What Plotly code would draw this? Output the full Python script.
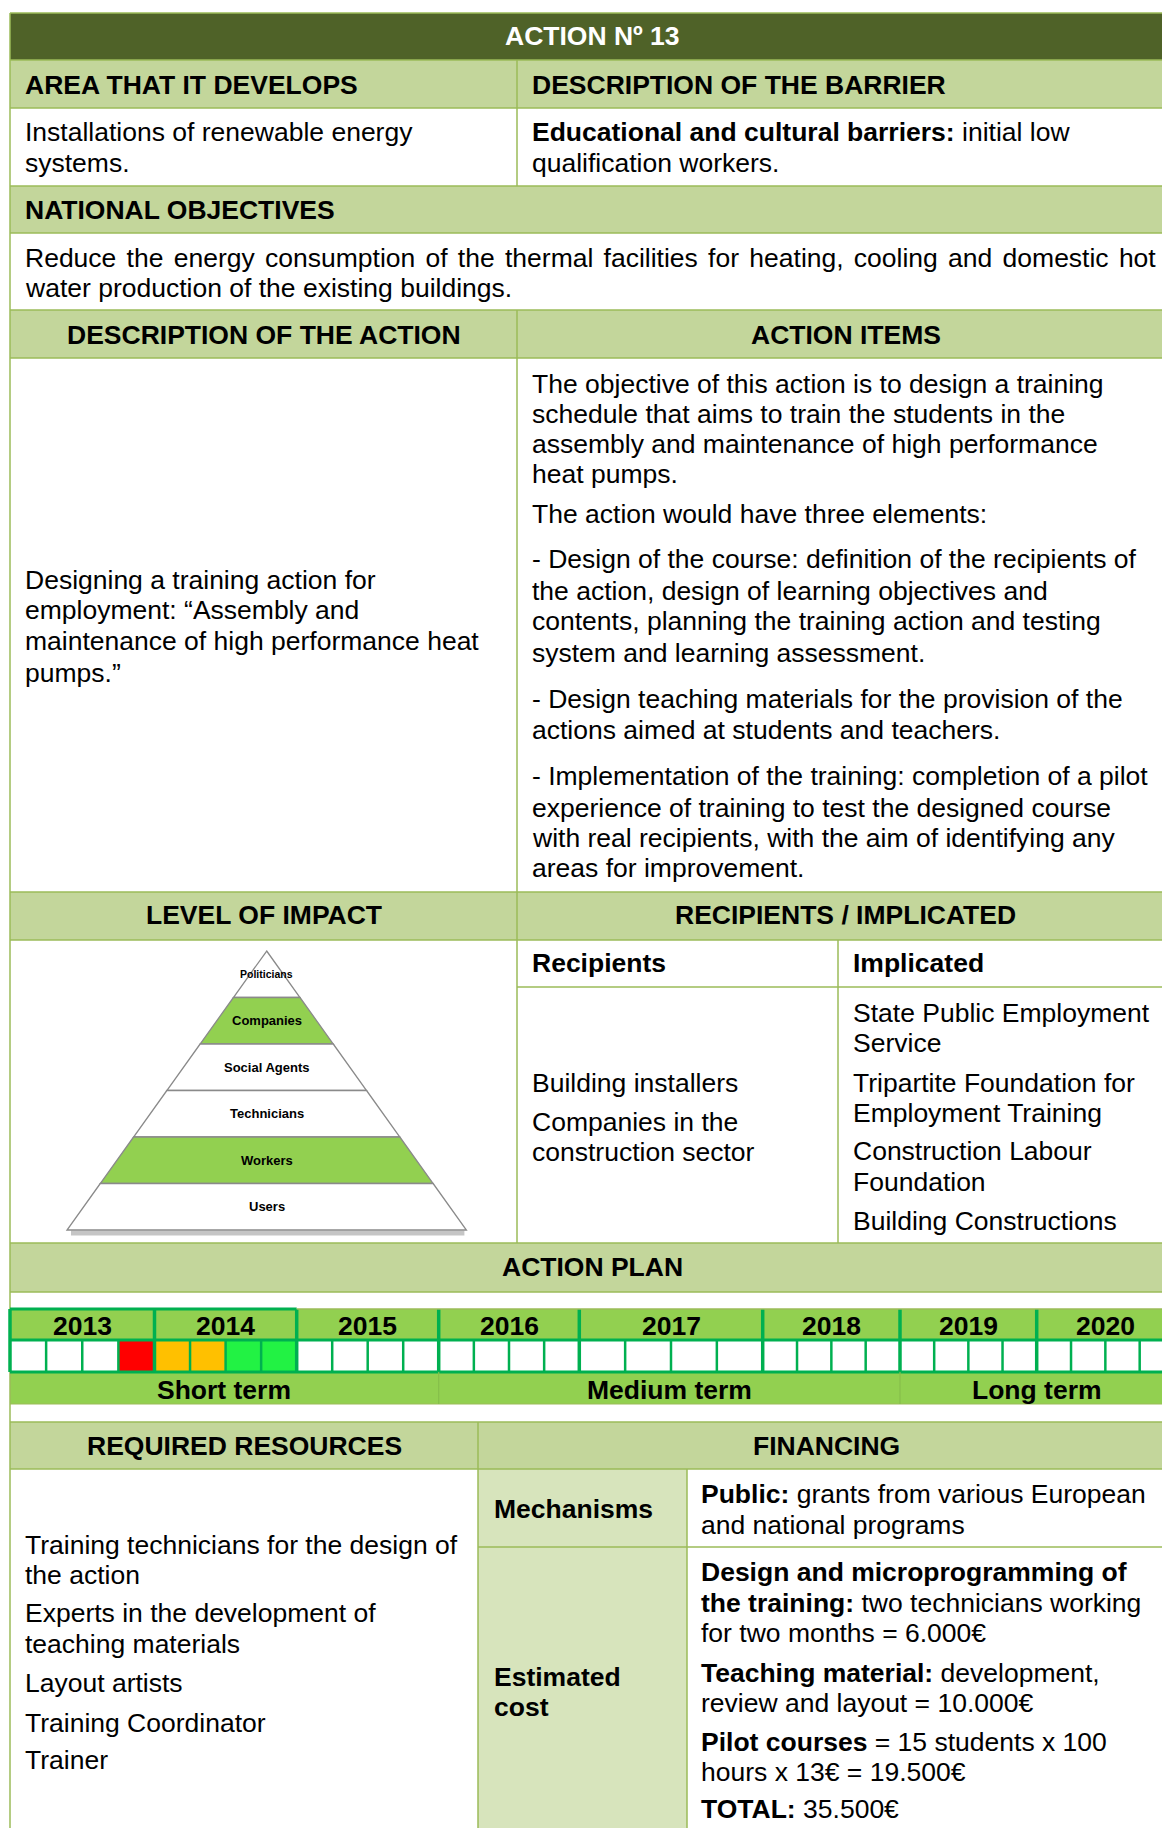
import plotly.graph_objects as go

# ======================= DATA =======================
TITLE = "ACTION Nº 13"
AREA_HEADER = "AREA THAT IT DEVELOPS"
BARRIER_HEADER = "DESCRIPTION OF THE BARRIER"
AREA_LINES = ["Installations of renewable energy", "systems."]
BARRIER_LINES = ["<b>Educational and cultural barriers:</b> initial low",
                 "qualification workers."]
OBJECTIVES_HEADER = "NATIONAL OBJECTIVES"
OBJECTIVE_LINES = ["Reduce the energy consumption of the thermal facilities for heating, cooling and domestic hot",
                   "water production of the existing buildings."]
ACTION_DESC_HEADER = "DESCRIPTION OF THE ACTION"
ACTION_ITEMS_HEADER = "ACTION ITEMS"
ACTION_DESC_LINES = ["Designing a training action for",
                     "employment: \u201cAssembly and",
                     "maintenance of high performance heat",
                     "pumps.\u201d"]
ACTION_ITEM_LINES = ["The objective of this action is to design a training",
                     "schedule that aims to train the students in the",
                     "assembly and maintenance of high performance",
                     "heat pumps.",
                     "The action would have three elements:",
                     "- Design of the course: definition of the recipients of",
                     "the action, design of learning objectives and",
                     "contents, planning the training action and testing",
                     "system and learning assessment.",
                     "- Design teaching materials for the provision of the",
                     "actions aimed at students and teachers.",
                     "- Implementation of the training: completion of a pilot",
                     "experience of training to test the designed course",
                     "with real recipients, with the aim of identifying any",
                     "areas for improvement."]
IMPACT_HEADER = "LEVEL OF IMPACT"
RECIP_HEADER = "RECIPIENTS / IMPLICATED"
PYRAMID_LEVELS = ["Politicians", "Companies", "Social Agents", "Technicians", "Workers", "Users"]
PYRAMID_SELECTED = [False, True, False, False, True, False]
RECIPIENTS_TITLE = "Recipients"
IMPLICATED_TITLE = "Implicated"
RECIPIENT_LINES = ["Building installers", "Companies in the", "construction sector"]
IMPLICATED_LINES = ["State Public Employment", "Service", "Tripartite Foundation for",
                    "Employment Training", "Construction Labour", "Foundation",
                    "Building Constructions"]
PLAN_HEADER = "ACTION PLAN"
YEARS = ["2013", "2014", "2015", "2016", "2017", "2018", "2019", "2020"]
# status per quarter (year index, quarter index, status)
QUARTER_STATUS = [(0, 3, "red"), (1, 0, "orange"), (1, 1, "orange"), (1, 2, "green"), (1, 3, "green")]
TERMS = ["Short term", "Medium term", "Long term"]
TERM_YEAR_COUNT = [3, 3, 2]
RESOURCES_HEADER = "REQUIRED RESOURCES"
FINANCING_HEADER = "FINANCING"
RESOURCE_LINES = ["Training technicians for the design of", "the action",
                  "Experts in the development of", "teaching materials",
                  "Layout artists", "Training Coordinator", "Trainer"]
MECH_LABEL = "Mechanisms"
COST_LABEL = ["Estimated", "cost"]
MECH_LINES = ["<b>Public:</b> grants from various European", "and national programs"]
COST_LINES = ["<b>Design and microprogramming of</b>",
              "<b>the training:</b> two technicians working",
              "for two months = 6.000\u20ac",
              "<b>Teaching material:</b> development,",
              "review and layout = 10.000\u20ac",
              "<b>Pilot courses</b> = 15 students x 100",
              "hours x 13\u20ac = 19.500\u20ac",
              "<b>TOTAL:</b> 35.500\u20ac"]

# ======================= LAYOUT / STYLE =======================
W, H = 1162, 1828
FONT = "Liberation Sans, Arial, sans-serif"
FS = 26.5
DARK = "#4F6228"
LIGHT = "#C3D69B"
PALE = "#D7E4BC"
BORDER = "#9BBB59"
GANTT_FILL = "#92D050"
GANTT_LINE = "#00B050"
STATUS_COLORS = {"red": "#FF0000", "orange": "#FFC000", "green": "#22F244"}

L, R = 10, 1174
COL = 517
SUBCOL = 838
RCOL = 478
FCOL = 687
BOTTOM = 1840
YEAR_EDGES = [10, 154.5, 296.7, 438.7, 579.3, 762.7, 900, 1036.7, 1174]
GY0, GY1, GY2, GY3 = 1309, 1340, 1372, 1404
PAD = 12.5          # left text inset inside a cell
XL = L + PAD
XC = COL + PAD
XS = SUBCOL + PAD
XM = RCOL + PAD + 1
XF = FCOL + PAD - 1
JUSTIFY_SPACING = "2.9px"   # extra word spacing for the justified objectives line

shapes = []
annotations = []


def rect(x0, y0, x1, y1, fill, line=None, lw=0):
    shapes.append(dict(type="rect", xref="x", yref="y", x0=x0, y0=y0, x1=x1, y1=y1,
                       fillcolor=fill, line=dict(color=line or fill, width=lw), layer="below"))


def hline(y, x0, x1, color=BORDER, w=1.5):
    shapes.append(dict(type="line", xref="x", yref="y", x0=x0, x1=x1, y0=y, y1=y,
                       line=dict(color=color, width=w)))


def vline(x, y0, y1, color=BORDER, w=1.5):
    shapes.append(dict(type="line", xref="x", yref="y", x0=x, x1=x, y0=y0, y1=y1,
                       line=dict(color=color, width=w)))


def text(t, x, y, size=FS, bold=False, color="black", anchor="left"):
    annotations.append(dict(x=x, y=y, xref="x", yref="y", text=("<b>%s</b>" % t) if bold else t,
                            showarrow=False, xanchor=anchor, yanchor="middle",
                            font=dict(family=FONT, size=size, color=color)))


def lines(ls, x, ys, **kw):
    for t, y in zip(ls, ys):
        text(t, x, y, **kw)


# ---- backgrounds ----
rect(L, 13, R, 60, DARK)
for y0, y1 in [(60, 108), (186, 233), (310, 358), (892, 940), (1243, 1292), (1422, 1469)]:
    rect(L, y0, R, y1, LIGHT)
rect(RCOL, 1469, FCOL, BOTTOM, PALE)

# ---- table borders ----
for y in [13, 60, 108, 186, 233, 310, 358, 892, 940, 1243, 1292, 1422, 1469]:
    hline(y, L, R)
hline(987, COL, R)
hline(1547, RCOL, R)
vline(L, 13, BOTTOM)
vline(COL, 60, 186)
vline(COL, 310, 1243)
vline(SUBCOL, 940, 1243)
vline(RCOL, 1422, BOTTOM)
vline(FCOL, 1469, BOTTOM)

# ---- texts ----
text(TITLE, (L + R) / 2, 36, bold=True, color="white", anchor="center")
text(AREA_HEADER, XL, 85, bold=True)
text(BARRIER_HEADER, XC, 85, bold=True)
lines(AREA_LINES, XL, [132, 163])
lines(BARRIER_LINES, XC, [132, 163])
text(OBJECTIVES_HEADER, XL, 210, bold=True)
text('<span style="word-spacing:%s">%s</span>' % (JUSTIFY_SPACING, OBJECTIVE_LINES[0]), XL, 258)
text(OBJECTIVE_LINES[1], XL, 288)
text(ACTION_DESC_HEADER, (L + COL) / 2, 334.5, bold=True, anchor="center")
text(ACTION_ITEMS_HEADER, (COL + R) / 2, 334.5, bold=True, anchor="center")
lines(ACTION_DESC_LINES, XL, [579.5, 610, 641, 672.5])
lines(ACTION_ITEM_LINES, XC, [383.5, 413.8, 444, 474.4, 514, 559.4, 591, 621, 652.7,
                              699.3, 729.6, 776.2, 807.7, 838, 868.3])
text(IMPACT_HEADER, (L + COL) / 2, 915, bold=True, anchor="center")
text(RECIP_HEADER, (COL + R) / 2, 915, bold=True, anchor="center")
text(RECIPIENTS_TITLE, XC, 963, bold=True)
text(IMPLICATED_TITLE, XS, 963, bold=True)
lines(RECIPIENT_LINES, XC, [1083.3, 1121.7, 1151.7])
lines(IMPLICATED_LINES, XS, [1013.3, 1043.3, 1083.3, 1113.3, 1150.7, 1181.7, 1220.7])

# ---- pyramid ----
AX, AY, BY, HALF = 266.7, 951, 1230, 199.7
n = len(PYRAMID_LEVELS)
bh = (BY - AY) / n
shapes.append(dict(type="line", xref="x", yref="y", x0=AX - HALF + 4, x1=AX + HALF - 2, y0=BY + 3, y1=BY + 3,
                   line=dict(color="rgba(90,90,90,0.35)", width=5)))
for i, (lab, sel) in enumerate(zip(PYRAMID_LEVELS, PYRAMID_SELECTED)):
    y0 = AY + i * bh
    y1 = y0 + bh
    h0 = HALF * (y0 - AY) / (BY - AY)
    h1 = HALF * (y1 - AY) / (BY - AY)
    path = "M %f %f L %f %f L %f %f L %f %f Z" % (AX - h0, y0, AX + h0, y0, AX + h1, y1, AX - h1, y1)
    shapes.append(dict(type="path", xref="x", yref="y", path=path,
                       fillcolor=GANTT_FILL if sel else "white",
                       line=dict(color="#8A8A8A", width=1.3)))
    text(lab, AX, (y0 + y1) / 2, size=10.5 if i == 0 else 13, bold=True, anchor="center")

# ---- action plan ----
text(PLAN_HEADER, (L + R) / 2, 1267, bold=True, anchor="center")
rect(L, GY0, R, GY1, GANTT_FILL)
rect(L, GY2, R, GY3, GANTT_FILL)
status = {(yi, qi): s for yi, qi, s in QUARTER_STATUS}
for yi, yr in enumerate(YEARS):
    x0, x1 = YEAR_EDGES[yi], YEAR_EDGES[yi + 1]
    text(yr, (x0 + x1) / 2, 1325.5, bold=True, anchor="center")
    qw = (x1 - x0) / 4
    for qi in range(4):
        s = status.get((yi, qi))
        rect(x0 + qi * qw, GY1, x0 + (qi + 1) * qw, GY2, STATUS_COLORS[s] if s else "white")
        if qi > 0:
            vline(x0 + qi * qw, GY1, GY2, GANTT_LINE, 2.5)
    vline(x0, GY0, GY2, GANTT_LINE, 3.5)
hline(GY0, L, YEAR_EDGES[2], GANTT_LINE, 3)
hline(GY0, YEAR_EDGES[2], R, BORDER, 1.5)
hline(GY1, L, R, GANTT_LINE, 3)
hline(GY2, L, R, GANTT_LINE, 3)
hline(GY3, L, R, BORDER, 1.2)
k = 0
for term, cnt in zip(TERMS, TERM_YEAR_COUNT):
    x0, x1 = YEAR_EDGES[k], YEAR_EDGES[k + cnt]
    text(term, (x0 + x1) / 2, 1390, bold=True, anchor="center")
    if k > 0:
        vline(x0, GY2, GY3, "#86BE4A", 1.2)
    k += cnt

# ---- resources / financing ----
text(RESOURCES_HEADER, (L + RCOL) / 2, 1445.5, bold=True, anchor="center")
text(FINANCING_HEADER, (RCOL + R) / 2, 1445.5, bold=True, anchor="center")
lines(RESOURCE_LINES, XL, [1545, 1575, 1613.3, 1644.3, 1683.3, 1722.7, 1760])
text(MECH_LABEL, XM, 1509.3, bold=True)
lines(COST_LABEL, XM, [1676.7, 1706.7], bold=True)
lines(MECH_LINES, XF, [1494, 1525])
lines(COST_LINES, XF, [1571.7, 1602.7, 1633.3, 1672.7, 1702.7, 1741.7, 1771.7, 1809])

fig = go.Figure()
fig.add_trace(go.Scatter(x=[0], y=[0], mode="markers", marker=dict(opacity=0), hoverinfo="skip"))
fig.update_layout(width=W, height=H, margin=dict(l=0, r=0, t=0, b=0),
                  paper_bgcolor="white", plot_bgcolor="white", showlegend=False,
                  xaxis=dict(range=[0, W], visible=False, fixedrange=True),
                  yaxis=dict(range=[H, 0], visible=False, fixedrange=True),
                  shapes=shapes, annotations=annotations)
fig.write_html("out.html", config={"displayModeBar": False},
               post_script="document.body.style.margin='0';document.body.style.overflow='hidden';")
